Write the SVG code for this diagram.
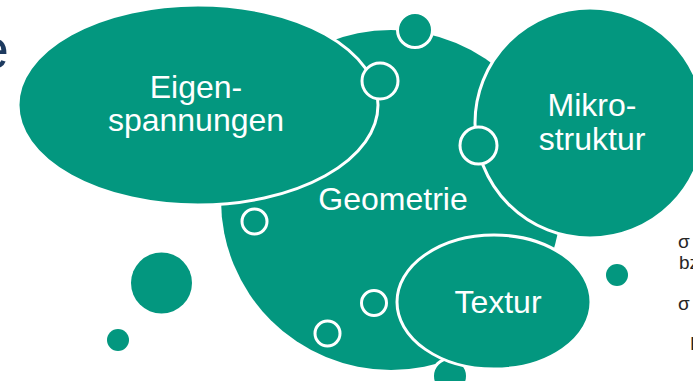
<svg xmlns="http://www.w3.org/2000/svg" width="693" height="381" viewBox="0 0 693 381">
  <style>
    .blob { fill: #03977f; stroke: #ffffff; stroke-width: 3; }
    .dot { fill: #03977f; }
    .ring { fill: none; stroke: #ffffff; stroke-width: 3; }
    .label { font-family: "Liberation Sans", Arial, sans-serif; font-size: 32px; fill: #ffffff; text-anchor: middle; }
    .side { font-family: "Liberation Sans", Arial, sans-serif; font-size: 19px; fill: #262626; }
  </style>
  <rect width="693" height="381" fill="#ffffff"/>

  <!-- heading remnant at the left edge -->
  <text x="9" y="68" font-family="Liberation Sans, Arial, sans-serif" font-size="56" fill="#1d3a5f" text-anchor="end">e</text>

  <!-- side notes at the right edge -->
  <g id="notes">
    <text class="side" x="678" y="248" font-family="Liberation Serif, serif">σ</text>
    <text class="side" x="679" y="269">bzw.</text>
    <text class="side" x="678" y="310" font-family="Liberation Serif, serif">σ</text>
    <text class="side" x="690" y="350">E</text>
  </g>

  <!-- free-floating dots -->
  <g id="dots">
    <circle class="dot" cx="161.5" cy="283" r="30.5"/>
    <circle class="dot" cx="118" cy="340" r="11"/>
    <circle class="dot" cx="617" cy="275" r="11"/>
  </g>

  <g id="geometrie">
    <circle class="dot" cx="391" cy="200" r="170"/>
  </g>

  <g id="top-bubble">
    <circle class="blob" cx="415" cy="30" r="17.5"/>
  </g>

  <g id="eigenspannungen">
    <ellipse class="blob" cx="198" cy="105" rx="180" ry="100"/>
    <text class="label" x="196" y="98">Eigen-</text>
    <text class="label" x="196" y="131">spannungen</text>
  </g>

  <g id="geometrie-label">
    <text class="label" x="393" y="210">Geometrie</text>
  </g>

  <g id="mikrostruktur">
    <circle class="blob" cx="590" cy="123" r="115"/>
    <text class="label" x="592" y="116">Mikro-</text>
    <text class="label" x="592" y="150">struktur</text>
  </g>

  <g id="bottom-bubble">
    <circle class="blob" cx="450" cy="376" r="17.5"/>
  </g>

  <g id="textur">
    <ellipse class="blob" cx="494" cy="302" rx="97" ry="67"/>
    <text class="label" x="498" y="313">Textur</text>
  </g>

  <!-- rings along the shapes -->
  <g id="rings">
    <circle class="blob" cx="380" cy="81" r="18"/>
    <circle class="blob" cx="478.5" cy="145.5" r="18.5"/>
    <circle class="ring" cx="254.5" cy="221.5" r="12.5"/>
    <circle class="ring" cx="374" cy="303" r="12.5"/>
    <circle class="ring" cx="327.5" cy="333.5" r="12.5"/>
  </g>
</svg>
